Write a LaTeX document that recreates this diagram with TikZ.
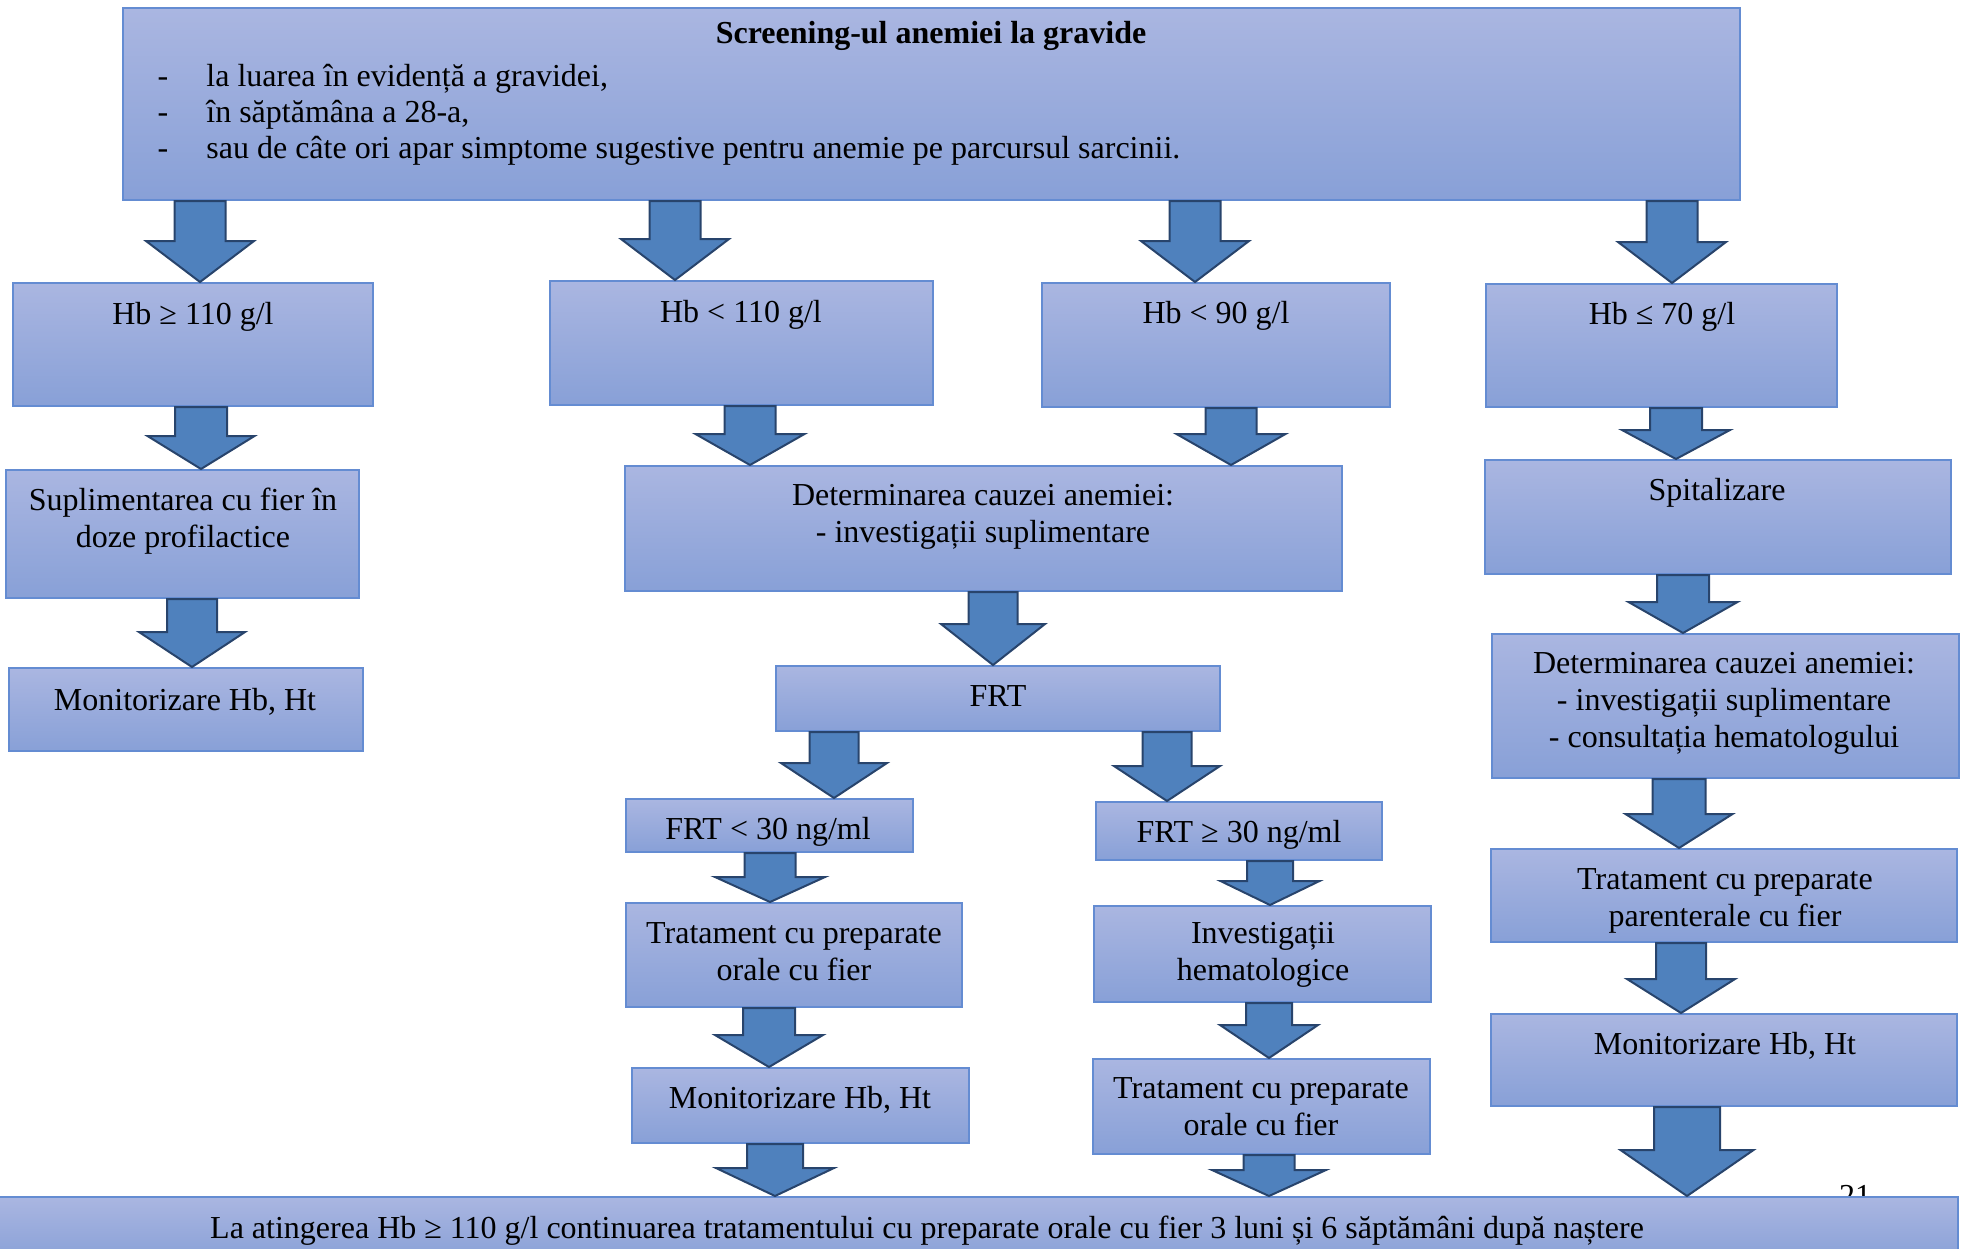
\documentclass[tikz,border=0pt]{standalone}
\usepackage{fontspec}
\setmainfont{Liberation Serif}
\usetikzlibrary{fit,calc}
\definecolor{boxtop}{RGB}{170,182,225}
\definecolor{boxbot}{RGB}{136,160,215}
\definecolor{boxline}{RGB}{100,140,210}
\definecolor{arrfill}{RGB}{79,129,189}
\definecolor{arrline}{RGB}{40,68,108}
\tikzset{
 box/.style={draw=boxline, line width=1pt, top color=boxtop, bottom color=boxbot, inner sep=0pt, rectangle},
 txt/.style={font=\fontsize{16}{18.4}\selectfont, align=center, anchor=base, inner sep=0pt},
 barrow/.style={fill=arrfill, draw=arrline, line width=1pt, line join=miter},
}
% #1 from node, #2 to node, #3 x (px), #4 shaft width (px), #5 head width (px), #6 head length (px)
\newcommand{\barr}[6]{%
 \draw[barrow] let \p1=(#1.south), \p2=(#2.north), \p3=(#3,0) in
 (\x3-#4*0.25pt,\y1) -- (\x3+#4*0.25pt,\y1) -- (\x3+#4*0.25pt,\y2+#6*0.5pt) --
 (\x3+#5*0.25pt,\y2+#6*0.5pt) -- (\x3,\y2) -- (\x3-#5*0.25pt,\y2+#6*0.5pt) --
 (\x3-#4*0.25pt,\y2+#6*0.5pt) -- cycle;}
\begin{document}
\begin{tikzpicture}[x=0.5pt,y=-0.5pt]
\useasboundingbox (0,0) rectangle (1970,1248);
\fill[white] (0,0) rectangle (1970,1248);
% page number (partly hidden by the bottom box)
\node[txt] (pnum) at (1855,1206) {21};
% boxes
\node[box, fit={(123,8) (1740,200)}] (top) {};
\node[box, fit={(13,283) (373,406)}] (hbA) {};
\node[box, fit={(550,281) (933,405)}] (hbB) {};
\node[box, fit={(1042,283) (1390,407)}] (hbC) {};
\node[box, fit={(1486,284) (1837,407)}] (hbD) {};
\node[box, fit={(6,470) (359,598)}] (supl) {};
\node[box, fit={(9,668) (363,751)}] (monA) {};
\node[box, fit={(625,466) (1342,591)}] (detM) {};
\node[box, fit={(776,666) (1220,731)}] (frt) {};
\node[box, fit={(626,799) (913,852)}] (frtL) {};
\node[box, fit={(1096,802) (1382,860)}] (frtR) {};
\node[box, fit={(626,903) (962,1007)}] (tratL) {};
\node[box, fit={(632,1068) (969,1143)}] (monM) {};
\node[box, fit={(1094,906) (1431,1002)}] (inv) {};
\node[box, fit={(1093,1059) (1430,1154)}] (tratR) {};
\node[box, fit={(1485,460) (1951,574)}] (spit) {};
\node[box, fit={(1492,634) (1959,778)}] (detR) {};
\node[box, fit={(1491,849) (1957,942)}] (tratP) {};
\node[box, fit={(1491,1014) (1957,1106)}] (monR) {};
\node[box, fit={(-5,1197) (1958,1262)}] (bottom) {};
% texts (anchor base = baseline of the last line)
\node[txt] at (931,43) {\textbf{Screening-ul anemiei la gravide}};
\node[txt] at (163,86) {-};
\node[txt] at (163,122) {-};
\node[txt] at (163,158) {-};
\node[txt, anchor=base west] at (206,86) {la luarea în evidență a gravidei,};
\node[txt, anchor=base west] at (206,122) {în săptămâna a 28-a,};
\node[txt, anchor=base west] at (206,158) {sau de câte ori apar simptome sugestive pentru anemie pe parcursul sarcinii.};
\node[txt] at (193,324) {Hb ≥ 110 g/l};
\node[txt] at (741,322) {Hb < 110 g/l};
\node[txt] at (1216,323) {Hb < 90 g/l};
\node[txt] at (1662,324) {Hb ≤ 70 g/l};
\node[txt] at (183,547) {Suplimentarea cu fier în\\doze profilactice};
\node[txt] at (185,710) {Monitorizare Hb, Ht};
\node[txt] at (983,542) {Determinarea cauzei anemiei:\\- investigații suplimentare};
\node[txt] at (998,706) {FRT};
\node[txt] at (768,839) {FRT < 30 ng/ml};
\node[txt] at (1239,842) {FRT ≥ 30 ng/ml};
\node[txt] at (794,980) {Tratament cu preparate\\orale cu fier};
\node[txt] at (800,1108) {Monitorizare Hb, Ht};
\node[txt] at (1263,980) {Investigații\\hematologice};
\node[txt] at (1261,1135) {Tratament cu preparate\\orale cu fier};
\node[txt] at (1717,500) {Spitalizare};
\node[txt] at (1724,747) {Determinarea cauzei anemiei:\\- investigații suplimentare\\- consultația hematologului};
\node[txt] at (1725,926) {Tratament cu preparate\\parenterale cu fier};
\node[txt] at (1725,1054) {Monitorizare Hb, Ht};
\node[txt] at (927,1238) {La atingerea Hb ≥ 110 g/l continuarea tratamentului cu preparate orale cu fier 3 luni și 6 săptămâni după naștere};
% arrows
\barr{top}{hbA}{200}{51}{108}{41}
\barr{top}{hbB}{675}{51}{108}{41}
\barr{top}{hbC}{1195}{51}{108}{41}
\barr{top}{hbD}{1672}{51}{108}{41}
\barr{hbA}{supl}{201}{52}{107}{33}
\barr{supl}{monA}{192}{50}{106}{35}
\barr{hbB}{detM}{750}{51}{109}{31}
\barr{hbC}{detM}{1231}{51}{109}{31}
\barr{detM}{frt}{993}{49}{104}{41}
\barr{frt}{frtL}{834}{49}{106}{35}
\barr{frt}{frtR}{1167}{49}{106}{35}
\barr{frtL}{tratL}{770}{51}{110}{25}
\barr{tratL}{monM}{769}{52}{108}{32}
\barr{monM}{bottom}{775}{56}{118}{28}
\barr{frtR}{inv}{1270}{46}{99}{24}
\barr{inv}{tratR}{1269}{46}{98}{33}
\barr{tratR}{bottom}{1269}{51}{114}{26}
\barr{hbD}{spit}{1676}{52}{108}{29}
\barr{spit}{detR}{1683}{52}{109}{31}
\barr{detR}{tratP}{1679}{53}{107}{34}
\barr{tratP}{monR}{1681}{50}{108}{34}
\barr{monR}{bottom}{1687}{66}{133}{46}
\end{tikzpicture}
\end{document}
